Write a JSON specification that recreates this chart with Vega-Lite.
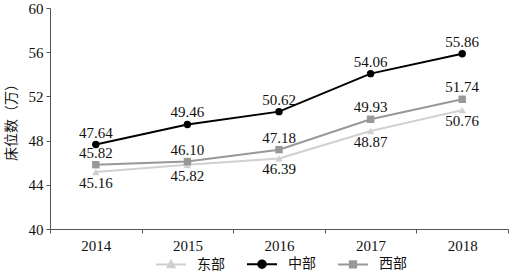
{
  "$schema": "https://vega.github.io/schema/vega-lite/v6.json",
  "width": 458,
  "height": 221,
  "autosize": "none",
  "padding": {"left": 50, "top": 8, "right": 1, "bottom": 44},
  "background": "white",
  "config": {"view": {"stroke": null}, "font": "Liberation Serif"},
  "data": {"values": [
    {"year": "2014", "region": "东部", "value": 45.16},
    {"year": "2015", "region": "东部", "value": 45.82},
    {"year": "2016", "region": "东部", "value": 46.39},
    {"year": "2017", "region": "东部", "value": 48.87},
    {"year": "2018", "region": "东部", "value": 50.76},
    {"year": "2014", "region": "中部", "value": 47.64},
    {"year": "2015", "region": "中部", "value": 49.46},
    {"year": "2016", "region": "中部", "value": 50.62},
    {"year": "2017", "region": "中部", "value": 54.06},
    {"year": "2018", "region": "中部", "value": 55.86},
    {"year": "2014", "region": "西部", "value": 45.82},
    {"year": "2015", "region": "西部", "value": 46.10},
    {"year": "2016", "region": "西部", "value": 47.18},
    {"year": "2017", "region": "西部", "value": 49.93},
    {"year": "2018", "region": "西部", "value": 51.74}
  ]},
  "encoding": {
    "x": {
      "field": "year", "type": "ordinal",
      "scale": {"type": "band", "paddingInner": 0, "paddingOuter": 0},
      "axis": {
        "title": null, "labelAngle": 0, "labelFont": "Liberation Serif", "labelFontSize": 15,
        "labelColor": "#111", "domainColor": "#555", "tickColor": "#555", "tickBand": "extent",
        "tickSize": 4, "labelPadding": 5, "grid": false
      }
    },
    "y": {
      "field": "value", "type": "quantitative",
      "scale": {"domain": [40, 60], "nice": false, "zero": false},
      "axis": {
        "values": [40, 44, 48, 52, 56, 60], "title": "床位数（万）",
        "titleFont": "Noto Sans CJK SC", "titleFontSize": 14, "titleFontWeight": "normal",
        "titleColor": "#111", "titlePadding": 10,
        "labelFont": "Liberation Serif", "labelFontSize": 15, "labelColor": "#111",
        "domainColor": "#555", "tickColor": "#555", "tickSize": 4, "labelPadding": 3, "grid": false
      }
    }
  },
  "layer": [
    {
      "mark": {"type": "line", "strokeWidth": 2},
      "encoding": {
        "color": {"field": "region", "type": "nominal", "legend": null,
          "scale": {"domain": ["东部", "中部", "西部"], "range": ["#d0d0d0", "#000000", "#989898"]}}
      }
    },
    {
      "mark": {"type": "point", "filled": true, "opacity": 1, "size": 55},
      "encoding": {
        "color": {"field": "region", "type": "nominal", "legend": null,
          "scale": {"domain": ["东部", "中部", "西部"], "range": ["#d0d0d0", "#000000", "#989898"]}},
        "shape": {"field": "region", "type": "nominal", "legend": null,
          "scale": {"domain": ["东部", "中部", "西部"], "range": ["triangle-up", "circle", "square"]}}
      }
    },
    {
      "transform": [{"filter": "datum.region === '中部' || datum.region === '西部'"}],
      "mark": {"type": "text", "baseline": "alphabetic", "dy": -7, "font": "Liberation Serif", "fontSize": 15, "color": "#111"},
      "encoding": {"text": {"field": "value", "type": "quantitative", "format": ".2f"}}
    },
    {
      "transform": [{"filter": "datum.region === '东部'"}],
      "mark": {"type": "text", "baseline": "alphabetic", "dy": 16, "font": "Liberation Serif", "fontSize": 15, "color": "#111"},
      "encoding": {"text": {"field": "value", "type": "quantitative", "format": ".2f"}}
    },
    {
      "transform": [{"filter": "false"}],
      "mark": {"type": "point", "filled": true, "opacity": 1},
      "encoding": {
        "color": {"field": "region", "type": "nominal",
          "scale": {"domain": ["东部", "中部", "西部"], "range": ["#d0d0d0", "#000000", "#989898"]},
          "legend": {
            "title": null, "orient": "none", "legendX": 114, "legendY": 249, "direction": "horizontal",
            "labelFont": "Noto Sans CJK SC", "labelFontSize": 14, "labelColor": "#111",
            "symbolSize": 100, "symbolStrokeWidth": 2, "labelOffset": 19, "columnPadding": 18
          }},
        "stroke": {"field": "region", "type": "nominal",
          "scale": {"domain": ["东部", "中部", "西部"], "range": ["#d0d0d0", "#000000", "#989898"]}},
        "shape": {"field": "region", "type": "nominal",
          "scale": {"domain": ["东部", "中部", "西部"], "range": [
            "M-3,0H3M0,-0.75L0.7,0.55L-0.7,0.55Z",
            "M-3,0H3M-0.75,0A0.75,0.75,0,1,0,0.75,0A0.75,0.75,0,1,0,-0.75,0Z",
            "M-3,0H3M-0.62,-0.62H0.62V0.62H-0.62Z"
          ]}}
      }
    }
  ],
  "resolve": {"scale": {"color": "independent", "shape": "independent", "stroke": "independent"}}
}
